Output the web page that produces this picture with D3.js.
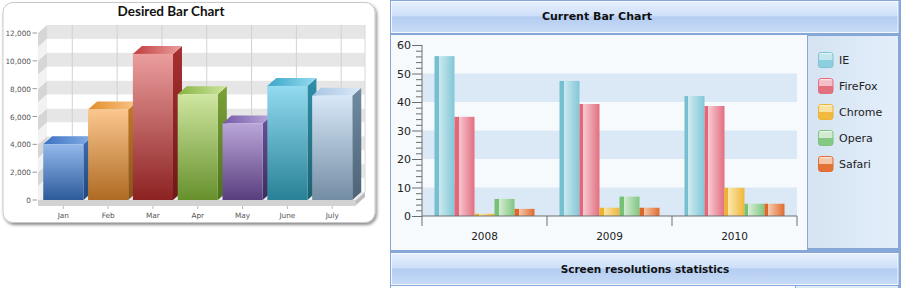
<!DOCTYPE html>
<html>
<head>
<meta charset="utf-8">
<script src="https://cdn.jsdelivr.net/npm/d3@7/dist/d3.min.js"></script>
<style>
html,body{margin:0;padding:0;background:#fff;}
svg{display:block;}
</style>
</head>
<body>
<svg id="chart" width="901" height="288"></svg>
<script>
// ---------- Data: Desired Bar Chart ----------
const months = ["Jan","Feb","Mar","Apr","May","June","July"];
const monthValues = [4000, 6500, 10500, 7600, 5500, 8200, 7500];
const leftTicks = [0, 2000, 4000, 6000, 8000, 10000, 12000];

// ---------- Data: Current Bar Chart ----------
const years = ["2008","2009","2010"];
const browsers = ["IE","FireFox","Chrome","Opera","Safari"];
const ieValues      = [56.1, 47.4, 42.1];
const firefoxValues = [34.8, 39.3, 38.6];
const chromeValues  = [0.8, 2.9, 9.9];
const operaValues   = [6.0, 6.8, 4.3];
const safariValues  = [2.5, 2.9, 4.3];
const rightTicks = [0, 10, 20, 30, 40, 50, 60];

const svg = d3.select("#chart");
const defs = svg.append("defs");

// ================= LEFT CHART =================
const monthPal = [
  {front:["#93b9ec","#2c5a9a"], side:["#3a6db4","#1f467e"], top:["#3b72c2","#86aee6"]},
  {front:["#fbc78e","#ae6a22"], side:["#c57a26","#8a5218"], top:["#e28d2a","#f9c58a"]},
  {front:["#eb9d9d","#8c2222"], side:["#a83030","#6e1818"], top:["#c03c3c","#eba0a0"]},
  {front:["#cfe6a0","#66902c"], side:["#7aa236","#4f7020"], top:["#86b43e","#cfe6a2"]},
  {front:["#baa6d8","#583e7e"], side:["#6c5098","#3f2c5c"], top:["#7458a8","#bba8da"]},
  {front:["#92dbf0","#288196"], side:["#2f90aa","#1c6070"], top:["#3aa6c8","#96dcf0"]},
  {front:["#d8e8f8","#738da4"], side:["#6f8aa2","#4e6478"], top:["#a6c4e2","#dceaf8"]}
];
monthPal.forEach((p,i)=>{
  const gf = defs.append("linearGradient").attr("id","lf"+i).attr("x1",0).attr("y1",0).attr("x2",0).attr("y2",1);
  gf.append("stop").attr("offset",0).attr("stop-color",p.front[0]);
  gf.append("stop").attr("offset",1).attr("stop-color",p.front[1]);
  const gs = defs.append("linearGradient").attr("id","ls"+i).attr("x1",0).attr("y1",0).attr("x2",0).attr("y2",1);
  gs.append("stop").attr("offset",0).attr("stop-color",p.side[0]);
  gs.append("stop").attr("offset",1).attr("stop-color",p.side[1]);
  const gt = defs.append("linearGradient").attr("id","lt"+i).attr("x1",0).attr("y1",0).attr("x2",1).attr("y2",0);
  gt.append("stop").attr("offset",0).attr("stop-color",p.top[0]);
  gt.append("stop").attr("offset",1).attr("stop-color",p.top[1]);
});

// panel shadow filter
const flt = defs.append("filter").attr("id","shadow").attr("x","-5%").attr("y","-5%").attr("width","110%").attr("height","115%");
flt.append("feDropShadow").attr("dx",1.5).attr("dy",2).attr("stdDeviation",1.5).attr("flood-color","#000").attr("flood-opacity",0.45);

const L = svg.append("g");
L.append("rect").attr("x",3).attr("y",2.5).attr("width",372).attr("height",220).attr("rx",10)
  .attr("fill","#fff").attr("stroke","#c9c9c9").attr("filter","url(#shadow)");

L.append("text").attr("x",171).attr("y",16).attr("text-anchor","middle")
  .attr("font-family","Lato, 'Open Sans', sans-serif").attr("font-weight","bold").attr("font-size",13.5)
  .attr("fill","#111").text("Desired Bar Chart");

const yL = d3.scaleLinear().domain([0,12000]).range([200,33]);
const xL = d3.scaleBand().domain(months).range([41,354.5]).paddingInner(0.105).paddingOuter(0.05);
const DX = 9, DY = -8;
const wallL = 38, wallR = 356;

// back wall
L.append("rect").attr("x",wallL+DX).attr("y",yL(12000)+DY).attr("width",wallR-wallL)
  .attr("height",yL(0)-yL(12000)).attr("fill","#f7f7f7");
const bands = d3.range(0,12000,2000);
L.selectAll(".bwband").data(bands).join("rect")
  .attr("x",wallL+DX).attr("y",d=>yL(d+2000)+DY).attr("width",wallR-wallL)
  .attr("height",d=>yL(d+1000)-yL(d+2000)).attr("fill","#e6e6e6");
L.selectAll(".bwbandw").data(bands).join("rect")
  .attr("x",wallL+DX).attr("y",d=>yL(d+1000)+DY).attr("width",wallR-wallL)
  .attr("height",d=>yL(d)-yL(d+1000)).attr("fill","#ffffff");
// side wall
L.selectAll(".swg").data(bands).join("path")
  .attr("d",d=>`M${wallL},${yL(d+2000)} L${wallL+DX},${yL(d+2000)+DY} L${wallL+DX},${yL(d+1000)+DY} L${wallL},${yL(d+1000)} Z`)
  .attr("fill","#d6d6d6");
L.selectAll(".sww").data(bands).join("path")
  .attr("d",d=>`M${wallL},${yL(d+1000)} L${wallL+DX},${yL(d+1000)+DY} L${wallL+DX},${yL(d)+DY} L${wallL},${yL(d)} Z`)
  .attr("fill","#f2f2f2");
// vertical grid lines on back wall
L.selectAll(".vg").data(months).join("line")
  .attr("x1",d=>xL(d)+xL.bandwidth()/2+DX).attr("x2",d=>xL(d)+xL.bandwidth()/2+DX)
  .attr("y1",yL(12000)+DY).attr("y2",yL(0)+DY).attr("stroke","#d2d2d2").attr("stroke-width",1);
// right edge of back wall
L.append("line").attr("x1",wallR+DX).attr("x2",wallR+DX).attr("y1",yL(12000)+DY).attr("y2",yL(0)+DY)
  .attr("stroke","#d8d8d8");

// floor
L.append("path").attr("d",`M${wallL},${yL(0)} L${wallL+DX},${yL(0)+DY} L${wallR+DX},${yL(0)+DY} L${wallR},${yL(0)} Z`)
  .attr("fill","#ececec");
L.append("rect").attr("x",wallL).attr("y",yL(0)).attr("width",wallR-wallL).attr("height",5).attr("fill","#d2d2d2");
L.append("path").attr("d",`M${wallR},${yL(0)} L${wallR+DX},${yL(0)+DY} L${wallR+DX},${yL(0)+DY+5} L${wallR},${yL(0)+5} Z`)
  .attr("fill","#bdbdbd");
L.append("line").attr("x1",wallL).attr("x2",wallR).attr("y1",yL(0)+5.5).attr("y2",yL(0)+5.5).attr("stroke","#aaa").attr("stroke-opacity",0.5);

// y axis labels
L.selectAll(".ylab").data(leftTicks).join("text")
  .attr("x",31).attr("y",d=>yL(d)+3).attr("text-anchor","end")
  .attr("font-family","'DejaVu Sans', sans-serif").attr("font-size",7.3).attr("fill","#555")
  .text(d=>d3.format(",")(d));
L.selectAll(".ytk").data(leftTicks).join("line")
  .attr("x1",32.5).attr("x2",37).attr("y1",d=>yL(d)).attr("y2",d=>yL(d)).attr("stroke","#999");

// bars
const bw = xL.bandwidth();
const barG = L.selectAll(".bar3d").data(months).join("g");
barG.append("path").attr("d",(d,i)=>{
  const x = xL(d)+bw, y0 = yL(0), y1 = yL(monthValues[i]);
  return `M${x},${y1} L${x+DX},${y1+DY} L${x+DX},${y0+DY} L${x},${y0} Z`;
}).attr("fill",(d,i)=>`url(#ls${i})`);
barG.append("path").attr("d",(d,i)=>{
  const x = xL(d), y1 = yL(monthValues[i]);
  return `M${x},${y1} L${x+DX},${y1+DY} L${x+bw+DX},${y1+DY} L${x+bw},${y1} Z`;
}).attr("fill",(d,i)=>`url(#lt${i})`);
barG.append("rect").attr("x",d=>xL(d)).attr("width",bw)
  .attr("y",(d,i)=>yL(monthValues[i])).attr("height",(d,i)=>yL(0)-yL(monthValues[i]))
  .attr("fill",(d,i)=>`url(#lf${i})`);

// x labels
L.selectAll(".xlab").data(months).join("text")
  .attr("x",d=>xL(d)+bw/2).attr("y",218).attr("text-anchor","middle")
  .attr("font-family","'DejaVu Sans', sans-serif").attr("font-size",7.3).attr("fill","#555").text(d=>d);
L.selectAll(".xtk").data(months).join("line")
  .attr("x1",d=>xL(d)+bw/2).attr("x2",d=>xL(d)+bw/2).attr("y1",yL(0)+6).attr("y2",yL(0)+9).attr("stroke","#bbb");

// ================= RIGHT CHART =================
const R = svg.append("g");
R.append("rect").attr("x",390).attr("y",0).attr("width",511).attr("height",288).attr("fill","#86a8d8");

function header(y, h, id){
  const g = defs.append("linearGradient").attr("id",id).attr("x1",0).attr("y1",0).attr("x2",0).attr("y2",1);
  g.append("stop").attr("offset",0).attr("stop-color","#e6f0fd");
  g.append("stop").attr("offset",0.45).attr("stop-color","#cfe0f9");
  g.append("stop").attr("offset",0.5).attr("stop-color","#b4cdf1");
  g.append("stop").attr("offset",1).attr("stop-color","#c7dbf6");
  R.append("rect").attr("x",391.5).attr("y",y).attr("width",506.5).attr("height",h)
    .attr("fill",`url(#${id})`).attr("stroke","#f4f8fe").attr("stroke-width",1);
}
header(1.5, 31, "hg1");
header(253.5, 31, "hg2");

R.append("text").attr("x",597).attr("y",20).attr("text-anchor","middle")
  .attr("font-family","'DejaVu Sans', sans-serif").attr("font-weight","bold").attr("font-size",11)
  .attr("fill","#111").text("Current Bar Chart");
R.append("text").attr("x",645).attr("y",273).attr("text-anchor","middle")
  .attr("font-family","'DejaVu Sans', sans-serif").attr("font-weight","bold").attr("font-size",10.5)
  .attr("fill","#111").text("Screen resolutions statistics");

// plot area
R.append("rect").attr("x",391).attr("y",35).attr("width",416).attr("height",215).attr("fill","#f6fafd");
// legend area
const lg = defs.append("linearGradient").attr("id","legbg").attr("x1",0).attr("y1",0).attr("x2",1).attr("y2",0);
lg.append("stop").attr("offset",0).attr("stop-color","#d5e3f2");
lg.append("stop").attr("offset",1).attr("stop-color","#e3eefa");
R.append("rect").attr("x",808).attr("y",36).attr("width",90).attr("height",212).attr("fill","url(#legbg)");
// bottom strip
R.append("rect").attr("x",391).attr("y",286).attr("width",404).attr("height",2).attr("fill","#fbfdff");
R.append("rect").attr("x",796).attr("y",286).attr("width",102).attr("height",2).attr("fill","#e0ebf8");

const x0 = d3.scaleBand().domain(years).range([422,797]).padding(0);
const x1 = d3.scaleBand().domain(browsers).range([0,x0.bandwidth()]).paddingInner(0).paddingOuter(0.625);
const yR = d3.scaleLinear().domain([0,60]).range([216,45]);

// bands
R.selectAll(".band").data([0,20,40]).join("rect")
  .attr("x",422).attr("width",375).attr("y",d=>yR(d+10)).attr("height",d=>yR(d)-yR(d+10))
  .attr("fill","#dae9f5");

// series
const seriesVals = [ieValues, firefoxValues, chromeValues, operaValues, safariValues];
const serPal = [
  {edge:"#76bfd0", light:"#cdeaf0", end:"#82c7d7", sw:["#c4e5ee","#8ccfdf"], border:"#7cc3d3"},
  {edge:"#e2677a", light:"#f7c9d0", end:"#e26f80", sw:["#f4c0c8","#e2707f"], border:"#e46c7d"},
  {edge:"#eeb22c", light:"#fae6ac", end:"#efb73a", sw:["#f9e2a0","#f0ba40"], border:"#eeb430"},
  {edge:"#76c176", light:"#d6edd6", end:"#80c680", sw:["#d0ebd0","#84c884"], border:"#7cc47c"},
  {edge:"#e0662a", light:"#f7c8ab", end:"#e06b30", sw:["#f6c6a8","#e27236"], border:"#e26c30"}
];
serPal.forEach((p,i)=>{
  const g = defs.append("linearGradient").attr("id","rb"+i).attr("x1",0).attr("y1",0).attr("x2",1).attr("y2",0);
  g.append("stop").attr("offset",0).attr("stop-color",p.edge);
  g.append("stop").attr("offset",0.2).attr("stop-color",p.edge);
  g.append("stop").attr("offset",0.2).attr("stop-color",p.light);
  g.append("stop").attr("offset",1).attr("stop-color",p.end);
  const s = defs.append("linearGradient").attr("id","rs"+i).attr("x1",0).attr("y1",0).attr("x2",0).attr("y2",1);
  s.append("stop").attr("offset",0).attr("stop-color","#ffffff").attr("stop-opacity",1);
  s.append("stop").attr("offset",0.15).attr("stop-color",p.sw[0]);
  s.append("stop").attr("offset",0.5).attr("stop-color",p.sw[0]);
  s.append("stop").attr("offset",0.5).attr("stop-color",p.sw[1]);
  s.append("stop").attr("offset",1).attr("stop-color",p.sw[1]);
});

const groups = R.selectAll(".grp").data(years).join("g").attr("transform",d=>`translate(${x0(d)},0)`);
groups.selectAll("rect").data((d,yi)=>browsers.map((b,bi)=>({b, bi, v: seriesVals[bi][yi]}))).join("rect")
  .attr("x",d=>x1(d.b)).attr("width",x1.bandwidth())
  .attr("y",d=>yR(d.v)).attr("height",d=>yR(0)-yR(d.v))
  .attr("fill",d=>`url(#rb${d.bi})`);

// y axis
const yAxis = d3.axisLeft(yR).tickValues(d3.range(0,61,2)).tickSize(6).tickFormat(d=>d%10===0?d:"");
const ya = R.append("g").attr("transform","translate(422,0)").call(yAxis);
ya.select(".domain").attr("stroke","#6e6e6e").attr("d","M0,45V216");
ya.selectAll(".tick line").attr("stroke","#6e6e6e").attr("x2",d=>d%10===0?-10:-6);
ya.selectAll(".tick text").attr("x",-11).attr("font-family","'DejaVu Sans', sans-serif").attr("font-size",11).attr("fill","#222");

// x axis
R.append("line").attr("x1",422).attr("x2",797).attr("y1",216).attr("y2",216).attr("stroke","#6e6e6e");
R.selectAll(".xtk").data([...years, "end"]).join("line")
  .attr("x1",(d,i)=>422+i*x0.step()).attr("x2",(d,i)=>422+i*x0.step())
  .attr("y1",216).attr("y2",226).attr("stroke","#6e6e6e");
R.selectAll(".xl").data(years).join("text")
  .attr("x",d=>x0(d)+x0.bandwidth()/2).attr("y",240).attr("text-anchor","middle")
  .attr("font-family","'DejaVu Sans', sans-serif").attr("font-size",10.5).attr("fill","#222").text(d=>d);

// legend
const leg = R.selectAll(".leg").data(browsers).join("g").attr("transform",(d,i)=>`translate(818,${52+i*26})`);
leg.append("rect").attr("x",0.5).attr("y",0.5).attr("width",14.5).attr("height",15).attr("rx",2.5)
  .attr("fill",(d,i)=>`url(#rs${i})`).attr("stroke",(d,i)=>serPal[i].border).attr("stroke-width",1);
leg.append("text").attr("x",21).attr("y",12).attr("font-family","'DejaVu Sans', sans-serif")
  .attr("font-size",11).attr("fill","#222").text(d=>d);
</script>
</body>
</html>
